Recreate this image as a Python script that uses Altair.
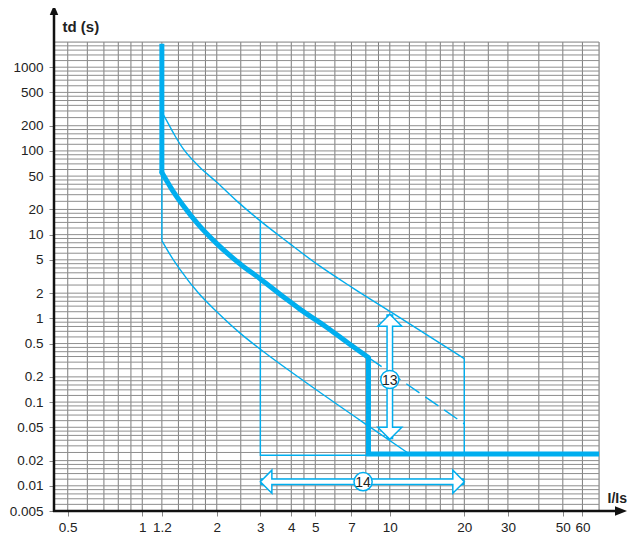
import altair as alt
import pandas as pd

BLUE = "#00aeef"
FONT = "Liberation Sans"
W, H = 545, 469
X_DOMAIN = [0.44, 70]
Y_DOMAIN = [0.005, 2000]

# ticks and grid
x_ticks = [0.5, 1, 1.2, 2, 3, 4, 5, 7, 10, 20, 30, 50, 60]
y_ticks = [0.005, 0.01, 0.02, 0.05, 0.1, 0.2, 0.5, 1, 2, 5, 10, 20, 50, 100, 200, 500, 1000]
x_grid = [0.5, 0.6, 0.7, 0.8, 0.9, 1, 1.2, 1.4, 1.6, 1.8, 2, 2.5, 3, 3.5, 4, 4.5, 5, 6, 7, 8, 9,
          10, 12, 14, 16, 18, 20, 25, 30, 40, 50, 60, 70]
y_mant = [1, 1.2, 1.4, 1.6, 1.8, 2, 2.5, 3, 3.5, 4, 4.5, 5, 6, 7, 8, 9]
y_grid = sorted({round(m * 10 ** e, 6) for e in range(-3, 4) for m in y_mant
                 if 0.005 <= m * 10 ** e <= 2000})

# thick characteristic curve
thick_top_x = [1.2, 1.2]
thick_top_y = [1900, 55]
thick_curve_x = [1.2, 1.25, 1.3, 1.46, 1.7, 2.0, 2.5, 3.0, 3.82, 4.33, 5.5, 6.89, 8.2]
thick_curve_y = [55, 45, 37, 22.4, 12.8, 7.8, 4.4, 2.96, 1.70, 1.29, 0.8, 0.49, 0.34]
thick_tail_x = [8.2, 8.2, 70]
thick_tail_y = [0.34, 0.024, 0.024]

# thin tolerance band
upper_x = [1.2, 1.25, 1.35, 1.46, 1.7, 1.99, 2.4, 2.98, 3.94, 5.05, 7.1, 10.2, 20]
upper_y = [290, 235, 155, 107, 64.7, 42.8, 25.5, 14.8, 7.8, 4.5, 2.3, 1.17, 0.33]
upper_v_x = [20, 20]
upper_v_y = [0.33, 0.0232]

lower_v_x = [1.2, 1.2]
lower_v_y = [55, 8.5]
lower_x = [1.2, 1.33, 1.415, 1.7, 2.0, 2.47, 3.0, 4.6, 8.05, 12.0]
lower_y = [8.5, 5.1, 3.9, 1.95, 1.2, 0.676, 0.427, 0.17, 0.0537, 0.024]

box_x = [3, 3, 8.2]
box_y = [14.8, 0.0232, 0.0232]

dash_x = [8.2, 20]
dash_y = [0.34, 0.055]

# annotations
a13_x = 10
a13_tips = [0.036, 1.12]
a13_label = (10, 0.186, "13")
a14_y = 0.0112
a14_tips = [3, 20]
a14_label = (7.8, 0.0112, "14")

xs = alt.Scale(type="log", domain=X_DOMAIN, nice=False)
ys = alt.Scale(type="log", domain=Y_DOMAIN, nice=False)


def line_df(d):
    rows = []
    for name, (xx, yy) in d.items():
        for i, (a, b) in enumerate(zip(xx, yy)):
            rows.append(dict(series=name, idx=i, x=a, y=b))
    return pd.DataFrame(rows)


def lines(d, **mark):
    return alt.Chart(line_df(d)).mark_line(color=BLUE, **mark).encode(
        x=alt.X("x:Q", scale=xs), y=alt.Y("y:Q", scale=ys), detail="series:N", order="idx:Q")


x_axis = alt.Axis(values=x_ticks, format="~g", grid=False, domain=False, tickColor="#888",
                  tickSize=5, labelFont=FONT, labelFontSize=13.5, labelColor="#222", labelPadding=4,
                  labelOverlap=False, labelFlush=False, title="I/Is", titleFont=FONT,
                  titleFontSize=14, titleFontWeight="bold", titleColor="#222", titleX=553,
                  titleY=-9, titleAlign="left", titleBaseline="alphabetic")
y_axis = alt.Axis(values=y_ticks, format="~g", grid=False, domain=False, tickColor="#888",
                  tickSize=5, labelFont=FONT, labelFontSize=13.5, labelColor="#222", labelPadding=6,
                  labelOverlap=False, labelFlush=False, title="td (s)", titleFont=FONT,
                  titleFontSize=15, titleFontWeight="bold", titleColor="#222", titleAngle=0,
                  titleX=8, titleY=-11, titleAlign="left", titleBaseline="alphabetic")

vgrid = alt.Chart(pd.DataFrame({"x": x_grid})).mark_rule(color="#7d7d7d", strokeWidth=1).encode(
    x=alt.X("x:Q", scale=xs, axis=x_axis))
hgrid = alt.Chart(pd.DataFrame({"y": y_grid})).mark_rule(color="#8e8e8e", strokeWidth=1).encode(
    y=alt.Y("y:Q", scale=ys, axis=y_axis))

thin_curves = lines({"upper": (upper_x, upper_y), "lower": (lower_x, lower_y)},
                    strokeWidth=1.4, interpolate="monotone")
thin_straight = lines({"uv": (upper_v_x, upper_v_y), "lv": (lower_v_x, lower_v_y),
                       "box": (box_x, box_y)}, strokeWidth=1.4, strokeJoin="miter")
dashed = lines({"d": (dash_x, dash_y)}, strokeWidth=1.4, strokeDash=[16, 7])
thick_top = lines({"t": (thick_top_x, thick_top_y)}, strokeWidth=5, strokeCap="butt")
thick_curve = lines({"c": (thick_curve_x, thick_curve_y)}, strokeWidth=5, strokeCap="round",
                    interpolate="monotone")
thick_tail = lines({"e": (thick_tail_x, thick_tail_y)}, strokeWidth=5, strokeJoin="miter",
                   strokeCap="butt")

# axis arrows (decoration)
one = pd.DataFrame({"a": [0]})
yaxis_line = alt.Chart(one).mark_rule(color="#111", strokeWidth=2.5).encode(
    x=alt.value(0), y=alt.value(-30), y2=alt.value(H + 1))
yaxis_head = alt.Chart(one).mark_point(
    shape="M0,-1L0.85,1L-0.85,1Z", filled=True, color="#111", size=100, opacity=1).encode(
    x=alt.value(0), y=alt.value(-32))
xaxis_line = alt.Chart(one).mark_rule(color="#111", strokeWidth=2.5).encode(
    x=alt.value(-1), x2=alt.value(565), y=alt.value(H))
xaxis_head = alt.Chart(one).mark_point(
    shape="M1,0L-1,0.8L-1,-0.8Z", filled=True, color="#111", size=144, opacity=1).encode(
    x=alt.value(567), y=alt.value(H))

# hollow double arrows
fy = 10 ** (9 / 83.3)
fx = 10 ** (10 / 247.3)
a13 = pd.DataFrame({"x": [a13_x], "y": [a13_tips[0]], "y2": [a13_tips[1]],
                    "w1": [a13_tips[0] * fy], "w2": [a13_tips[1] / fy]})
a14 = pd.DataFrame({"y": [a14_y], "x": [a14_tips[0]], "x2": [a14_tips[1]],
                    "w1": [a14_tips[0] * fx], "w2": [a14_tips[1] / fx]})

head = dict(filled=True, fill="white", stroke=BLUE, strokeWidth=1.5, opacity=1)
a13_shaft = alt.Chart(a13).mark_rule(color=BLUE, strokeWidth=7).encode(
    x=alt.X("x:Q", scale=xs), y=alt.Y("y:Q", scale=ys), y2="y2:Q")
a13_up = alt.Chart(a13).mark_point(shape="M0,0L1,1L-1,1Z", size=576, **head).encode(
    x=alt.X("x:Q", scale=xs), y=alt.Y("y2:Q", scale=ys))
a13_dn = alt.Chart(a13).mark_point(shape="M0,0L1,-1L-1,-1Z", size=576, **head).encode(
    x=alt.X("x:Q", scale=xs), y=alt.Y("y:Q", scale=ys))
a13_white = alt.Chart(a13).mark_rule(color="white", strokeWidth=4).encode(
    x=alt.X("x:Q", scale=xs), y=alt.Y("w1:Q", scale=ys), y2="w2:Q")

a14_shaft = alt.Chart(a14).mark_rule(color=BLUE, strokeWidth=7).encode(
    y=alt.Y("y:Q", scale=ys), x=alt.X("x:Q", scale=xs), x2="x2:Q")
a14_l = alt.Chart(a14).mark_point(shape="M0,0L1,-1L1,1Z", size=529, **head).encode(
    x=alt.X("x:Q", scale=xs), y=alt.Y("y:Q", scale=ys))
a14_r = alt.Chart(a14).mark_point(shape="M0,0L-1,-1L-1,1Z", size=529, **head).encode(
    x=alt.X("x2:Q", scale=xs), y=alt.Y("y:Q", scale=ys))
a14_white = alt.Chart(a14).mark_rule(color="white", strokeWidth=4).encode(
    y=alt.Y("y:Q", scale=ys), x=alt.X("w1:Q", scale=xs), x2="w2:Q")

labels = pd.DataFrame([dict(x=a13_label[0], y=a13_label[1], t=a13_label[2]),
                       dict(x=a14_label[0], y=a14_label[1], t=a14_label[2])])
circles = alt.Chart(labels).mark_point(shape="circle", size=330, **head).encode(
    x=alt.X("x:Q", scale=xs), y=alt.Y("y:Q", scale=ys))
texts = alt.Chart(labels).mark_text(font=FONT, fontSize=14, color="#222", baseline="middle",
                                    align="center", dy=1).encode(
    x=alt.X("x:Q", scale=xs), y=alt.Y("y:Q", scale=ys), text="t:N")

chart = alt.layer(
    vgrid, hgrid, thin_curves, thin_straight, dashed, thick_top, thick_curve, thick_tail,
    a13_shaft, a13_up, a13_dn, a13_white,
    a14_shaft, a14_l, a14_r, a14_white,
    circles, texts,
    yaxis_line, yaxis_head, xaxis_line, xaxis_head,
).properties(
    width=W, height=H,
    autosize=alt.AutoSizeParams(type="none"),
    padding={"left": 46, "top": 34, "right": 28, "bottom": 22},
).configure_view(stroke=None).configure(background="white")

chart.save("out.html", embed_options={"renderer": "svg", "actions": False})
